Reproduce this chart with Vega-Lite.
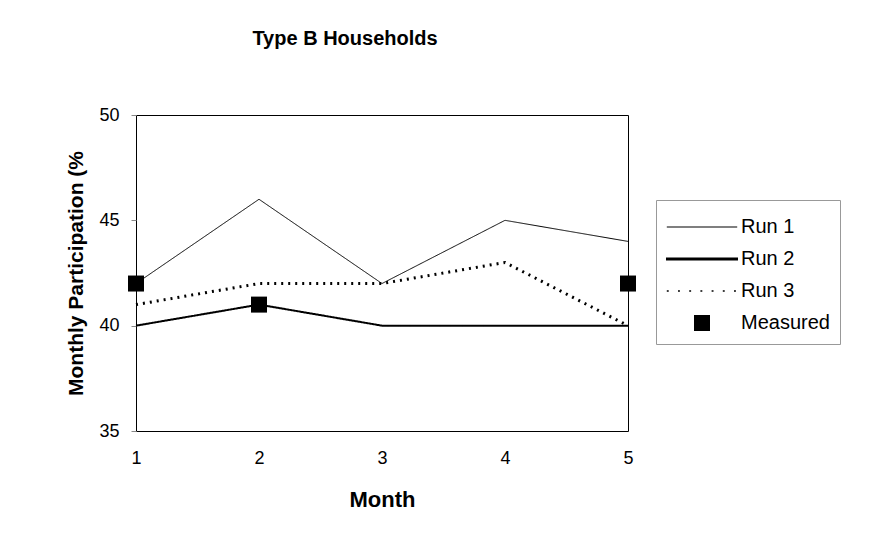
{
  "$schema": "https://vega.github.io/schema/vega-lite/v6.json",
  "width": 492,
  "height": 316,
  "autosize": {"type": "none"},
  "padding": {"left": 136, "top": 115, "right": 243, "bottom": 112},
  "background": "white",
  "config": {
    "view": {"stroke": "black", "strokeWidth": 1},
    "font": "Liberation Sans",
    "axis": {"labelFont": "Liberation Sans", "titleFont": "Liberation Sans", "labelColor": "black", "titleColor": "black", "grid": false, "domain": false}
  },
  "title": {
    "text": "Type B Households",
    "fontSize": 20,
    "fontWeight": "bold",
    "font": "Liberation Sans",
    "color": "black",
    "anchor": "middle",
    "dx": -37,
    "offset": 57
  },
  "data": {
    "values": [
      {"series": "Run 1", "month": 1, "value": 42},
      {"series": "Run 1", "month": 2, "value": 46},
      {"series": "Run 1", "month": 3, "value": 42},
      {"series": "Run 1", "month": 4, "value": 45},
      {"series": "Run 1", "month": 5, "value": 44},
      {"series": "Run 2", "month": 1, "value": 40},
      {"series": "Run 2", "month": 2, "value": 41},
      {"series": "Run 2", "month": 3, "value": 40},
      {"series": "Run 2", "month": 4, "value": 40},
      {"series": "Run 2", "month": 5, "value": 40},
      {"series": "Run 3", "month": 1, "value": 41},
      {"series": "Run 3", "month": 2, "value": 42},
      {"series": "Run 3", "month": 3, "value": 42},
      {"series": "Run 3", "month": 4, "value": 43},
      {"series": "Run 3", "month": 5, "value": 40},
      {"series": "Measured", "month": 1, "value": 42},
      {"series": "Measured", "month": 2, "value": 41},
      {"series": "Measured", "month": 5, "value": 42}
    ]
  },
  "encoding": {
    "x": {
      "field": "month",
      "type": "quantitative",
      "scale": {"domain": [1, 5], "nice": false, "zero": false},
      "axis": {"title": "Month", "values": [1, 2, 3, 4, 5], "ticks": false, "labelFontSize": 18, "labelPadding": 18, "titleFontSize": 22, "titleFontWeight": "bold", "titlePadding": 22, "labelFlush": false}
    },
    "y": {
      "field": "value",
      "type": "quantitative",
      "scale": {"domain": [35, 50], "nice": false, "zero": false},
      "axis": {"title": "Monthly Participation (%", "values": [35, 40, 45, 50], "ticks": true, "tickSize": 5, "tickColor": "#888", "labelFontSize": 18, "labelPadding": 12, "titleFontSize": 21, "titleFontWeight": "bold", "titlePadding": 12}
    }
  },
  "layer": [
    {
      "transform": [{"filter": "datum.series != 'Measured'"}],
      "mark": {"type": "line", "color": "black"},
      "encoding": {
        "strokeDash": {
          "field": "series",
          "type": "nominal",
          "legend": null,
          "scale": {"domain": ["Run 1", "Run 2", "Run 3"], "range": [[1, 0], [1, 0], [2, 5]]}
        },
        "strokeWidth": {
          "field": "series",
          "type": "nominal",
          "legend": null,
          "scale": {"domain": ["Run 1", "Run 2", "Run 3"], "range": [1, 3, 1.5]}
        }
      }
    },
    {
      "transform": [{"filter": "datum.series == 'Measured'"}],
      "mark": {"type": "point", "filled": true, "color": "black", "opacity": 1, "size": 1024},
      "encoding": {
        "shape": {
          "field": "series",
          "type": "nominal",
          "title": null,
          "scale": {
            "domain": ["Run 1", "Run 2", "Run 3", "Measured"],
            "range": [
              "M-2.2,-0.035L2.2,-0.035L2.2,0.035L-2.2,0.035Z",
              "M-2.25,-0.09L2.25,-0.09L2.25,0.09L-2.25,0.09Z",
              "M-2.2,-0.05h0.12v0.1h-0.12Z M-1.5,-0.05h0.12v0.1h-0.12Z M-0.8,-0.05h0.12v0.1h-0.12Z M-0.1,-0.05h0.12v0.1h-0.12Z M0.6,-0.05h0.12v0.1h-0.12Z M1.3,-0.05h0.12v0.1h-0.12Z M2.0,-0.05h0.12v0.1h-0.12Z",
              "M-0.5,-0.5L0.5,-0.5L0.5,0.5L-0.5,0.5Z"
            ]
          },
          "legend": {
            "orient": "none",
            "legendX": 520,
            "legendY": 85,
            "strokeColor": "#999",
            "padding": 10,
            "labelFontSize": 20,
            "labelFont": "Liberation Sans",
            "labelColor": "black",
            "symbolSize": 1024,
            "symbolFillColor": "black",
            "symbolStrokeColor": "transparent",
            "symbolOffset": 19,
            "labelOffset": 22,
            "rowPadding": 5,
            "encode": {
              "symbols": {"update": {"fill": {"value": "black"}, "stroke": {"value": "transparent"}, "opacity": {"value": 1}}}
            }
          }
        }
      }
    }
  ]
}
